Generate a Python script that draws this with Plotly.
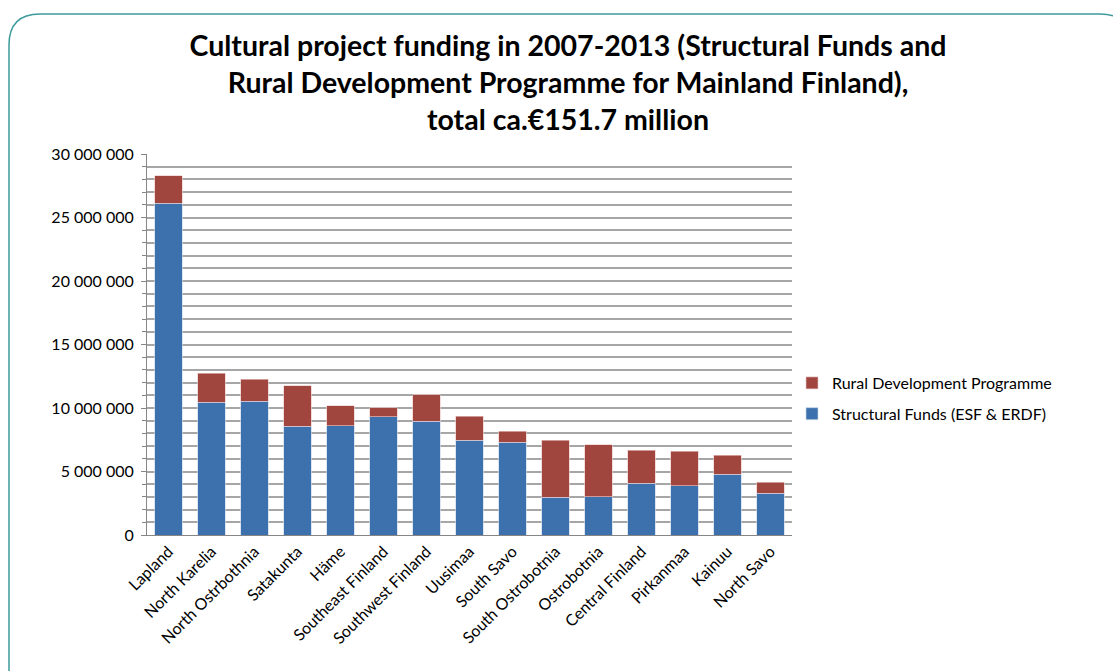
import plotly.graph_objects as go

# Regions (x categories)
regions = ["Lapland", "North Karelia", "North Ostrbothnia", "Satakunta", "Häme",
           "Southeast Finland", "Southwest Finland", "Uusimaa", "South Savo",
           "South Ostrobotnia", "Ostrobotnia", "Central Finland", "Pirkanmaa",
           "Kainuu", "North Savo"]

# Funding per region, euros
structural_funds = [26120000, 10450000, 10530000, 8580000, 8610000,
                    9320000, 8950000, 7480000, 7320000,
                    2970000, 3020000, 4090000, 3880000, 4780000, 3280000]
rural_development = [2150000, 2280000, 1730000, 3180000, 1550000,
                     710000, 2100000, 1860000, 840000,
                     4480000, 4070000, 2600000, 2730000, 1490000, 870000]

# Y axis labels
y_tickvals = [0, 5000000, 10000000, 15000000, 20000000, 25000000, 30000000]
y_ticktext = ["0", "5 000 000", "10 000 000", "15 000 000", "20 000 000",
              "25 000 000", "30 000 000"]

W, H = 1113, 671
L, R, T, B = 147, 792, 154, 535

FONT = "Lato"

fig = go.Figure()
fig.add_trace(go.Bar(
    x=regions, y=structural_funds, name="Structural Funds (ESF & ERDF)",
    legendgroup="sf", legendrank=2,
    marker=dict(color="#3d71ad", line=dict(color="rgba(200,215,235,0.8)", width=0.8)),
))
fig.add_trace(go.Bar(
    x=regions, y=rural_development, name="Rural Development Programme",
    legendgroup="rdp", legendrank=1,
    marker=dict(color="#a0463f", line=dict(color="rgba(235,200,200,0.8)", width=0.8)),
))


def px(x):
    return (x - L) / (R - L)


def py(y):
    return (B - y) / (B - T)


# Rounded frame around the slide
r = 31
left, top, right, bottom = 9, 14, 1131, 720
path = (f"M {px(left)},{py(bottom)} L {px(left)},{py(top + r)} "
        f"Q {px(left)},{py(top)} {px(left + r)},{py(top)} "
        f"L {px(right - r)},{py(top)} "
        f"Q {px(right)},{py(top)} {px(right)},{py(top + r)} "
        f"L {px(right)},{py(bottom)}")

fig.update_layout(
    width=W, height=H,
    margin=dict(l=L, r=W - R, t=T, b=H - B, pad=0),
    barmode="stack",
    bargap=0.35,
    plot_bgcolor="white",
    paper_bgcolor="white",
    font=dict(family=FONT, size=16, color="#000000"),
    title=dict(
        text="<b>Cultural project funding in 2007-2013 (Structural Funds and<br>"
             "Rural Development Programme for Mainland Finland),<br>"
             "total ca.€151.7 million</b>",
        x=568 / W, xanchor="center", y=1 - 56 / H, yanchor="top",
        font=dict(family=FONT, size=28.5, color="#000000"),
    ),
    legend=dict(
        x=px(792), y=py(366), xanchor="left", yanchor="top",
        traceorder="grouped",
        font=dict(family=FONT, size=16),
        itemwidth=30,
        tracegroupgap=7,
        bgcolor="rgba(0,0,0,0)",
    ),
    xaxis=dict(
        tickangle=-45,
        showline=True, linecolor="#868686", linewidth=1,
        ticks="", showgrid=False,
        tickfont=dict(family=FONT, size=16),
    ),
    yaxis=dict(
        range=[0, 30000000],
        tickvals=y_tickvals, ticktext=y_ticktext,
        showline=True, linecolor="#868686", linewidth=1,
        ticks="outside", ticklen=5, tickcolor="#868686",
        ticklabelstandoff=4,
        showgrid=True, gridcolor="#a6a6a6", gridwidth=1.5,
        minor=dict(dtick=1000000, showgrid=True, gridcolor="#a6a6a6",
                   gridwidth=1.5, ticks="outside", ticklen=4, tickcolor="#868686"),
        tickfont=dict(family=FONT, size=16),
        zeroline=False,
    ),
    shapes=[dict(type="path", path=path, xref="paper", yref="paper",
                 line=dict(color="#3f9a9c", width=1.5), layer="above")],
)

fig.write_html("out.html")
